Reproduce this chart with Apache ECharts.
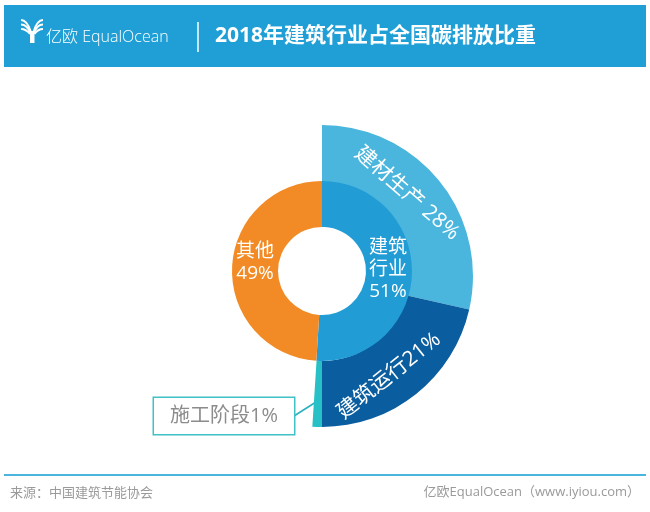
<!DOCTYPE html>
<html>
<head>
<meta charset="utf-8">
<script src="https://cdn.jsdelivr.net/npm/echarts@6/dist/echarts.min.js"></script>
<style>
  html, body { margin: 0; padding: 0; background: #fff; }
  #chart { width: 650px; height: 512px; }
</style>
</head>
<body>
<div id="chart"></div>
<script>
// 数据
const titleText = '2018年建筑行业占全国碳排放比重'
const innerNames = ['建筑行业', '其他']
const innerValues = [51, 49]
const innerLabels = ['建筑\n行业\n51%', '其他\n49%']
const outerNames = ['建材生产', '建筑运行', '施工阶段']
const outerValues = [28, 21, 1]
const outerLabels = ['建材生产 28%', '建筑运行21%', '施工阶段1%']
// 外圈只占半圈，剩余部分留空（与内圈 51% 对齐）
const outerGap = 48
const sourceText = '来源：中国建筑节能协会'
const brandText = '亿欧EqualOcean（www.iyiou.com）'

const font = "'Open Sans', 'Noto Sans CJK SC', sans-serif"
const cjk = "'Noto Sans CJK SC', sans-serif"

const chart = echarts.init(document.getElementById('chart'))

const outerColors = ['#4ab6dd', '#0a5d9e', '#27c0c6']
const innerColors = ['#229cd5', '#f28b25']

const outerData = outerNames.map((name, i) => ({
  name: name,
  value: outerValues[i],
  itemStyle: { color: outerColors[i] }
}))
// 建材生产标签角度稍平
outerData[0].label = { rotate: -41 }
// 施工阶段：外部带框标签
outerData[2].label = {
  position: 'outside',
  rotate: 0,
  color: '#8c8c8c',
  fontSize: 20,
  backgroundColor: '#fff',
  borderColor: '#3fc1c5',
  borderWidth: 1.5,
  padding: [8, 16]
}
outerData[2].labelLine = { show: false }
outerData.push({
  name: 'gap',
  value: outerGap,
  itemStyle: { color: 'transparent' },
  label: { show: false },
  labelLine: { show: false },
  emphasis: { disabled: true }
})

const option = {
  backgroundColor: '#fff',
  animation: false,
  graphic: [
    // 顶部蓝色标题栏
    { type: 'rect', shape: { x: 4, y: 5, width: 642, height: 62 }, style: { fill: '#1f9fd5' } },
    // logo 图形
    { type: 'rect', shape: { x: 30, y: 31, width: 4.5, height: 12 }, style: { fill: '#fff' } },
    { type: 'bezierCurve', shape: { x1: 21, y1: 20, cpx1: 27, cpy1: 20, x2: 31, y2: 32 }, style: { stroke: '#fff', lineWidth: 2, fill: null } },
    { type: 'bezierCurve', shape: { x1: 21, y1: 24.5, cpx1: 27, cpy1: 24.5, x2: 30.5, y2: 33 }, style: { stroke: '#fff', lineWidth: 2, fill: null } },
    { type: 'bezierCurve', shape: { x1: 21, y1: 29, cpx1: 26, cpy1: 29, x2: 30, y2: 34 }, style: { stroke: '#fff', lineWidth: 2, fill: null } },
    { type: 'bezierCurve', shape: { x1: 43, y1: 20, cpx1: 37, cpy1: 20, x2: 33.5, y2: 32 }, style: { stroke: '#fff', lineWidth: 2, fill: null } },
    { type: 'bezierCurve', shape: { x1: 43, y1: 24.5, cpx1: 37, cpy1: 24.5, x2: 34, y2: 33 }, style: { stroke: '#fff', lineWidth: 2, fill: null } },
    { type: 'bezierCurve', shape: { x1: 43, y1: 29, cpx1: 38, cpy1: 29, x2: 34.5, y2: 34 }, style: { stroke: '#fff', lineWidth: 2, fill: null } },
    {
      type: 'text', left: 46, top: 29,
      style: { text: '亿欧 EqualOcean', fill: '#fff', fontSize: 16, fontFamily: font, fontWeight: 300 }
    },
    // 分隔线
    { type: 'line', shape: { x1: 198, y1: 22, x2: 198, y2: 52 }, style: { stroke: '#fff', lineWidth: 1.5 } },
    {
      type: 'text', left: 215, top: 26,
      style: { text: titleText, fill: '#fff', fontSize: 21, fontWeight: 'bold', fontFamily: font }
    },
    // 施工阶段标签引线
    { type: 'line', shape: { x1: 294, y1: 416, x2: 316, y2: 402 }, style: { stroke: '#2bb0bf', lineWidth: 1.6 } },
    // 底部分割线与来源
    { type: 'line', shape: { x1: 4, y1: 475, x2: 646, y2: 475 }, style: { stroke: '#4bb5dd', lineWidth: 2 } },
    {
      type: 'text', left: 10, top: 486,
      style: { text: sourceText, fill: '#9a9a9a', fontSize: 13, fontFamily: cjk }
    },
    {
      type: 'text', right: 10, top: 486,
      style: { text: brandText, fill: '#9a9a9a', fontSize: 13, fontFamily: font }
    }
  ],
  series: [
    // 外圈：建筑行业细分
    {
      type: 'pie',
      center: [322, 276],
      radius: [85, 151],
      startAngle: 90,
      silent: true,
      label: {
        show: true,
        position: 'inside',
        rotate: 'tangential',
        color: '#fff',
        fontSize: 21,
        fontFamily: font,
        formatter: (p) => outerLabels[p.dataIndex]
      },
      labelLayout: function (params) {
        if (params.dataIndex === 0) return { dx: -12, dy: 1 }
        if (params.dataIndex === 1) return { dx: -10, dy: -1 }
        if (params.dataIndex === 2) return { x: 224, y: 416, align: 'center', verticalAlign: 'middle' }
      },
      data: outerData
    },
    // 内圈：建筑行业 / 其他
    {
      type: 'pie',
      center: [322, 271],
      radius: [44, 90],
      startAngle: 90,
      silent: true,
      label: {
        show: true,
        position: 'inside',
        color: '#fff',
        fontSize: 19,
        lineHeight: 22,
        fontFamily: font,
        formatter: (p) => innerLabels[p.dataIndex]
      },
      labelLayout: function (params) {
        return params.dataIndex === 0 ? { dx: -4, dy: -4 } : { dx: 3, dy: -6 }
      },
      labelLine: { show: false },
      data: innerNames.map((name, i) => ({
        name: name,
        value: innerValues[i],
        itemStyle: { color: innerColors[i] }
      }))
    }
  ]
}

chart.setOption(option)

window.addEventListener('resize', () => {
  chart.resize()
})
</script>
</body>
</html>
